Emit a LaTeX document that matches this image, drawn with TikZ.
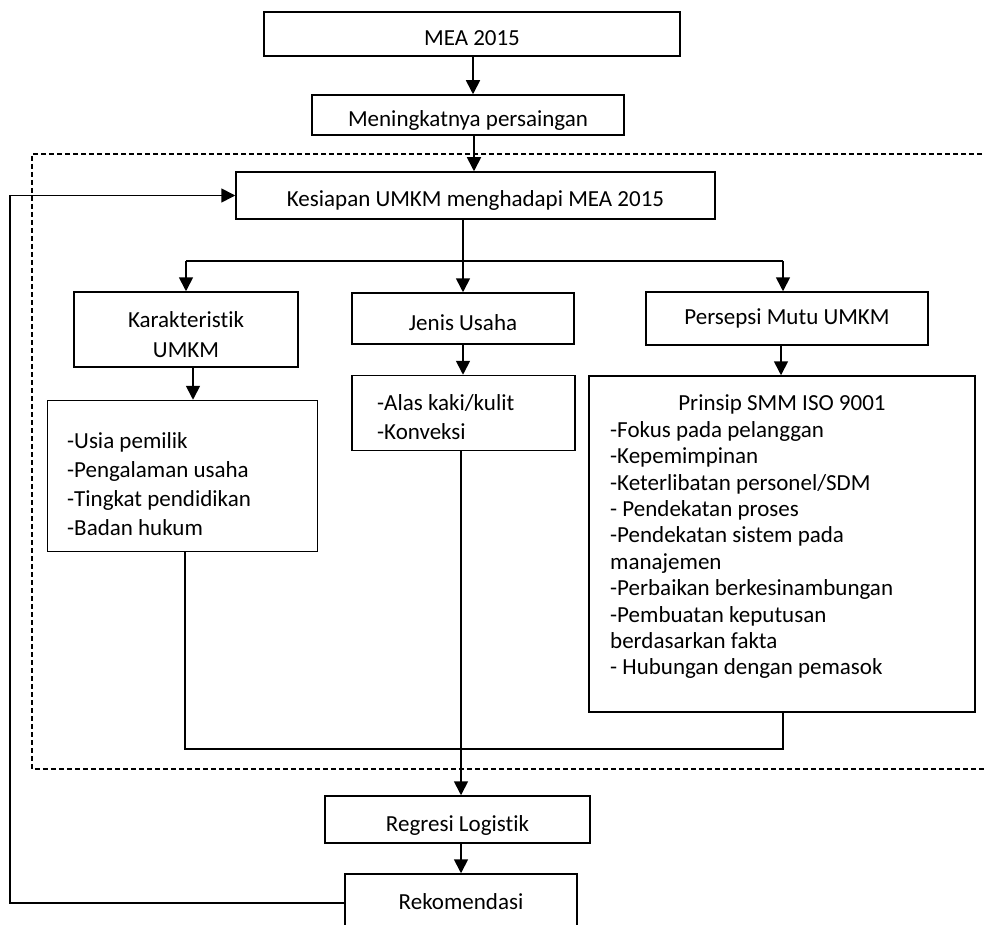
\documentclass[tikz,border=0pt]{standalone}
\usepackage{fontspec}
\setmainfont{Carlito}[Ligatures=CommonOff]
\usetikzlibrary{arrows.meta}
\begin{document}
\begin{tikzpicture}[x=1pt,y=-1pt,
  box/.style={draw, line width=1.5pt, inner sep=0pt, align=center, font=\fontsize{23}{30}\selectfont},
  lbl/.style={text height=23pt, text depth=0pt},
  txt/.style={inner sep=0pt, align=left, anchor=west},
  ln/.style={line width=1.7pt},
  arr/.style={line width=1.7pt, -{Triangle[width=14pt,length=14pt]}},
  dsh/.style={line width=1.1pt, dash pattern=on 5pt off 3pt},
]
\useasboundingbox (0,0) rectangle (984,925);
\clip (0,0) rectangle (984,925);

% dashed region
\draw[dsh] (990,154) -- (32,154) -- (32,769) -- (990,769);

% boxes
\node[box, lbl, minimum width=416pt, minimum height=44pt] (mea) at (472,34) {MEA 2015};
\node[box, lbl, minimum width=312pt, minimum height=40pt] (men) at (468,115) {Meningkatnya persaingan};
\node[box, lbl, minimum width=479pt, minimum height=47pt] (kes) at (475.5,195.5) {Kesiapan UMKM menghadapi MEA 2015};
\node[box, minimum width=224pt, minimum height=75pt] (kar) at (186,329.5) {};
\node[box, lbl, minimum width=222pt, minimum height=51pt] (jen) at (463,318.5) {Jenis Usaha};
\node[box, minimum width=282pt, minimum height=53pt] (per) at (787,318.5) {Persepsi Mutu UMKM};
\node[box, minimum width=270pt, minimum height=151pt] (usia) at (182.5,476) {};
\node[box, minimum width=223pt, minimum height=75pt] (alas) at (463.5,413) {};
\node[box, minimum width=386pt, minimum height=336pt] (prin) at (782,544) {};
\node[box, lbl, minimum width=265pt, minimum height=47pt] (reg) at (457.5,819.5) {Regresi Logistik};
\node[box, text height=15pt, text depth=0pt, minimum width=232pt, minimum height=56pt] (rek) at (461,902) {Rekomendasi};

% texts in boxes
\node[inner sep=0pt, align=center, font=\fontsize{23}{30}\selectfont] (karT) at (186,335) {Karakteristik\\UMKM};
\node[txt, font=\fontsize{23}{29}\selectfont] (usiaT) at (67,484) {-Usia pemilik\\-Pengalaman usaha\\-Tingkat pendidikan\\-Badan hukum};
\node[txt, font=\fontsize{23}{29}\selectfont] (alasT) at (377,417) {-Alas kaki/kulit\\-Konveksi};
\node[inner sep=0pt, font=\fontsize{23}{26}\selectfont] (prinT) at (782,404) {Prinsip SMM ISO 9001};
\node[txt, font=\fontsize{23}{26.4}\selectfont] (prinL) at (610,550) {-Fokus pada pelanggan\\-Kepemimpinan\\-Keterlibatan personel/SDM\\- Pendekatan proses\\-Pendekatan sistem pada\\manajemen\\-Perbaikan berkesinambungan\\-Pembuatan keputusan\\berdasarkan fakta\\- Hubungan dengan pemasok};

% helper coordinates
\coordinate (bl) at (186,261);
\coordinate (bm) at (463,261);
\coordinate (br) at (783,261);
\coordinate (xm) at (473,0);
\coordinate (xk) at (474,0);
\coordinate (xu) at (193,0);
\coordinate (xp) at (781,0);
\coordinate (xa) at (461,0);
\coordinate (xl) at (185,0);
\coordinate (jl) at (185,749);
\coordinate (jr) at (783,749);
\coordinate (fb) at (10,0);
\coordinate (fy) at (0,903);

% connectors
\draw[arr] (mea.south -| xm) -- (men.north -| xm);
\draw[arr] (men.south -| xk) -- (kes.north -| xk);
\draw[ln] (kes.south -| bm) -- (bm);
\draw[ln] (bl) -- (br);
\draw[arr] (bl) -- (kar.north -| bl);
\draw[arr] (bm) -- (jen.north -| bm);
\draw[arr] (br) -- (per.north -| br);
\draw[arr] (kar.south -| xu) -- (usia.north -| xu);
\draw[arr] (jen.south -| bm) -- (alas.north -| bm);
\draw[arr] (per.south -| xp) -- (prin.north -| xp);
\draw[ln] (usia.south -| xl) -- (jl) -- (jr) -- (prin.south -| jr);
\draw[arr] (alas.south -| xa) -- (reg.north -| xa);
\draw[arr] (reg.south -| xa) -- (rek.north -| xa);
\draw[arr] (rek.west |- fy) -- (fb |- fy) |- (kes.west);
\end{tikzpicture}
\end{document}
